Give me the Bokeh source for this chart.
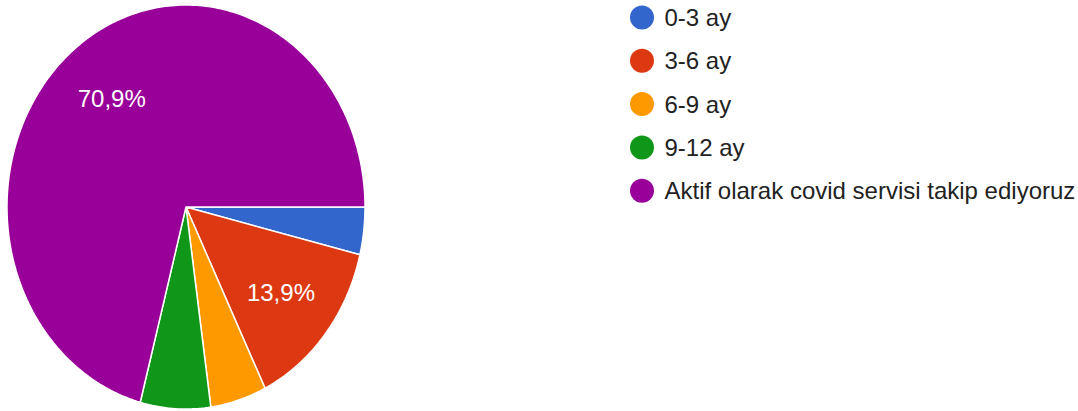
import numpy as np
from bokeh.plotting import figure
from bokeh.models import Range1d
from bokeh.core.properties import value
from bokeh.embed import file_html
from bokeh.resources import INLINE

# ---- data ----
categories = ["0-3 ay", "3-6 ay", "6-9 ay", "9-12 ay", "Aktif olarak covid servisi takip ediyoruz"]
counts = [3, 11, 4, 5, 56]
colors = ["#3366cc", "#dc3912", "#ff9900", "#109618", "#990099"]

# ---- layout (picture pixel coordinates) ----
W, H = 1078, 411
CX, CY = 185.5, 206.5
RX, RY = 179.0, 202.0
LABEL_R = 0.68
FONT = "Liberation Sans"

p = figure(width=W, height=H, output_backend="svg", toolbar_location=None,
           x_range=Range1d(0, W), y_range=Range1d(H, 0),
           min_border=0, outline_line_color=None)
p.axis.visible = False
p.grid.visible = False
p.background_fill_color = "white"
p.border_fill_color = "white"

total = float(sum(counts))
fracs = [c / total for c in counts]
xs, ys, mids = [], [], []
start = 0.0
for f in fracs:
    end = start + f * 2 * np.pi
    n = max(4, int(np.ceil((end - start) / (np.pi / 180))))
    th = np.linspace(start, end, n + 1)
    xs.append([CX] + list(CX + RX * np.cos(th)))
    ys.append([CY] + list(CY + RY * np.sin(th)))
    mids.append((start + end) / 2)
    start = end

p.patches(xs=xs, ys=ys, fill_color=colors, line_color="white", line_width=1.5)

# slice labels
lx, ly, lt = [], [], []
for f, m in zip(fracs, mids):
    if f >= 0.10:
        lx.append(CX + LABEL_R * RX * np.cos(m))
        ly.append(CY + LABEL_R * RY * np.sin(m))
        lt.append(f"{f*100:.1f}".replace(".", ",") + "%")
p.text(x=lx, y=ly, text=lt, text_color="white", text_font=value(FONT),
       text_font_size="24px", text_align="center", text_baseline="middle")

# legend
LEG_X, LEG_Y0, LEG_DY = 641.5, 17.0, 43.3
leg_y = [LEG_Y0 + i * LEG_DY for i in range(len(categories))]
p.scatter(x=[LEG_X] * len(categories), y=leg_y, size=24, marker="circle",
          fill_color=colors, line_color=None)
p.text(x=[LEG_X + 22.5] * len(categories), y=leg_y, text=categories,
       text_color="#222222", text_font=value(FONT), text_font_size="24px",
       text_align="left", text_baseline="middle")

open("out.html", "w").write(file_html(p, INLINE))
